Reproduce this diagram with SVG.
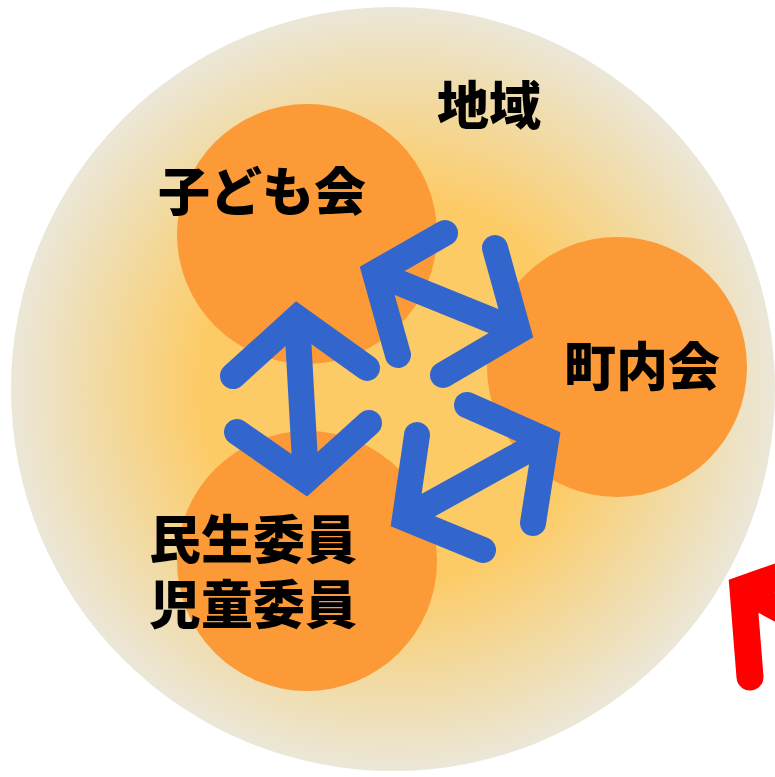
<svg xmlns="http://www.w3.org/2000/svg" width="775" height="777" viewBox="0 0 775 777">
  <defs>
    <radialGradient id="regionGrad" cx="393" cy="389" r="382" gradientUnits="userSpaceOnUse">
      <stop offset="0" stop-color="#FDCB65"/>
      <stop offset="0.5" stop-color="#FDCB65"/>
      <stop offset="0.78" stop-color="#F1DBA6"/>
      <stop offset="1" stop-color="#EBE7D8"/>
    </radialGradient>
    <style>
      .org { fill: #FB9A36; }
      .lbl { font-family: "Noto Sans CJK JP", "Noto Sans CJK SC", sans-serif; font-weight: 900; font-size: 52px; fill: #000; text-anchor: middle; dominant-baseline: central; }
      .arrow { fill: none; stroke: #3366CC; stroke-width: 26; stroke-linecap: round; stroke-linejoin: miter; stroke-miterlimit: 10; }
      .red { fill: none; stroke: #FF0000; stroke-width: 27; stroke-linecap: round; stroke-linejoin: miter; stroke-miterlimit: 10; }
    </style>
  </defs>
  <rect width="775" height="777" fill="#FFFFFF"/>
  <g id="region">
    <circle cx="393" cy="389" r="382" fill="url(#regionGrad)"/>
    <text class="lbl" x="489" y="102">地域</text>
  </g>
  <g id="kodomokai">
    <circle class="org" cx="307" cy="234" r="130"/>
    <text class="lbl" x="262" y="188">子ども会</text>
  </g>
  <g id="chonaikai">
    <circle class="org" cx="617" cy="367" r="130"/>
    <text class="lbl" x="642" y="363">町内会</text>
  </g>
  <g id="minsei">
    <circle class="org" cx="307" cy="561" r="130"/>
    <text class="lbl"><tspan x="253" y="536">民生委員</tspan><tspan x="253" y="601">児童委員</tspan></text>
  </g>
  <g id="connectors">
    <path class="arrow" d="M233 376 L297 318 L367 368 M297 318 L306 480 M237 432 L306 480 L369 423"/>
    <path class="arrow" d="M445 233 L375 273 L398 355 M375 273 L518 331 M495 248 L518 331 L443 375"/>
    <path class="arrow" d="M467 405 L546 440 L533 523 M546 440 L405 518 M417 435 L405 518 L483 550"/>
    <path class="red" d="M750 677 L743 589 L800 569 M743 589 L800 620"/>
  </g>
</svg>
